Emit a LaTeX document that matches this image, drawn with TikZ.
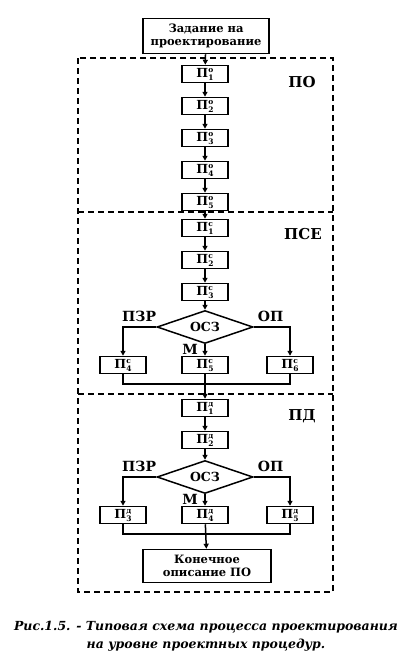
\documentclass[tikz,border=0pt]{standalone}
\usepackage{fontspec}
\setmainfont{DejaVu Serif}
\usetikzlibrary{shapes.geometric, arrows.meta, positioning}
\newcommand{\proc}[2]{П\rlap{\raisebox{4.5pt}{\fontsize{7.5}{8}\selectfont #1}}\raisebox{-3pt}{\fontsize{7.5}{8}\selectfont #2}}

\begin{document}
\begin{tikzpicture}[
    x=1pt, y=-1pt,
    node distance=13.5pt,
    every node/.style={font=\bfseries\fontsize{11}{12}\selectfont, inner sep=0pt},
    procbox/.style={rectangle, draw, line width=1.5pt, minimum width=46pt, minimum height=17pt, font=\bfseries\fontsize{12.5}{13}\selectfont},
    bigbox/.style={rectangle, draw, line width=1.5pt, align=center, font=\bfseries\fontsize{11.5}{13}\selectfont},
    check/.style={diamond, draw, line width=1.5pt, minimum width=96pt, minimum height=33pt, aspect=3, font=\bfseries\fontsize{12.5}{13}\selectfont},
    lbl/.style={font=\bfseries\fontsize{14}{15}\selectfont},
    zonelbl/.style={font=\bfseries\fontsize{15}{16}\selectfont},
    zone/.style={dashed, line width=1.5pt, dash pattern=on 6pt off 4pt},
    line/.style={line width=1.5pt},
    arrow/.style={-{Triangle[length=5pt, width=5pt]}, line width=1.5pt}
]
\useasboundingbox (0,0) rectangle (412,656);
% outer frame and zones
\draw[zone] (78,58) rectangle (333,592);
\draw[zone] (78,212) -- (333,212);
\draw[zone] (78,394) -- (333,394);
\node[zonelbl] (tPO) at (302,82) {ПО};
\node[zonelbl] (tPSE) at (303,234) {ПСЕ};
\node[zonelbl] (tPD) at (302,416) {ПД};

% task
\node[bigbox, minimum width=126pt, minimum height=35pt] (task) at (206,36) {Задание на\\проектирование};

% zone PO
\node[procbox] (po1) at (205,74) {\proc{о}{1}};
\node[procbox, below=of po1] (po2) {\proc{о}{2}};
\node[procbox, below=of po2] (po3) {\proc{о}{3}};
\node[procbox, below=of po3] (po4) {\proc{о}{4}};
\node[procbox, below=of po4] (po5) {\proc{о}{5}};

% zone PSE
\node[procbox] (ps1) at (205,228) {\proc{с}{1}};
\node[procbox, below=of ps1] (ps2) {\proc{с}{2}};
\node[procbox, below=of ps2] (ps3) {\proc{с}{3}};
\node[check] (chk1) at (205,327) {ОСЗ};
\node[procbox] (ps4) at (123,365) {\proc{с}{4}};
\node[procbox] (ps5) at (205,365) {\proc{с}{5}};
\node[procbox] (ps6) at (290,365) {\proc{с}{6}};
\coordinate (join1) at (205,384);
\node[lbl, above left=5pt and 0pt of chk1.west] (pzr1) {ПЗР};
\node[lbl, above right=5pt and 4pt of chk1.east] (op1) {ОП};
\node[lbl, below left=0pt and 7pt of chk1.south] (m1) {М};

% zone PD
\node[procbox] (pd1) at (205,408) {\proc{д}{1}};
\node[procbox] (pd2) at (205,440) {\proc{д}{2}};
\node[check] (chk2) at (205,477) {ОСЗ};
\node[procbox] (pd3) at (123,515) {\proc{д}{3}};
\node[procbox] (pd4) at (205,515) {\proc{д}{4}};
\node[procbox] (pd5) at (290,515) {\proc{д}{5}};
\coordinate (join2) at (205,534);
\node[lbl, above left=5pt and 0pt of chk2.west] (pzr2) {ПЗР};
\node[lbl, above right=5pt and 4pt of chk2.east] (op2) {ОП};
\node[lbl, below left=0pt and 7pt of chk2.south] (m2) {М};
\node[bigbox, minimum width=128pt, minimum height=33pt] (final) at (207,566) {Конечное\\описание ПО};

% connectors
\draw[arrow] (task) -- (po1);
\draw[arrow] (po1) -- (po2);
\draw[arrow] (po2) -- (po3);
\draw[arrow] (po3) -- (po4);
\draw[arrow] (po4) -- (po5);
\draw[arrow] (po5) -- (ps1);
\draw[arrow] (ps1) -- (ps2);
\draw[arrow] (ps2) -- (ps3);
\draw[arrow] (ps3) -- (chk1);
\draw[arrow] (chk1.west) -| (ps4);
\draw[arrow] (chk1.east) -| (ps6);
\draw[arrow] (chk1.south) -- (ps5);
\draw[line] (ps4.south) |- (join1) -| (ps6.south);
\draw[arrow] (ps5) -- (pd1);
\draw[arrow] (pd1) -- (pd2);
\draw[arrow] (pd2) -- (chk2);
\draw[arrow] (chk2.west) -| (pd3);
\draw[arrow] (chk2.east) -| (pd5);
\draw[arrow] (chk2.south) -- (pd4);
\draw[line] (pd3.south) |- (join2) -| (pd5.south);
\draw[arrow] (pd4) -- (final);

% caption
\node[font=\bfseries\itshape\fontsize{12.5}{18}\selectfont, align=center] (cap) at (206,636) {Рис.1.5. - Типовая схема процесса проектирования\\на уровне проектных процедур.};
\end{tikzpicture}
\end{document}
